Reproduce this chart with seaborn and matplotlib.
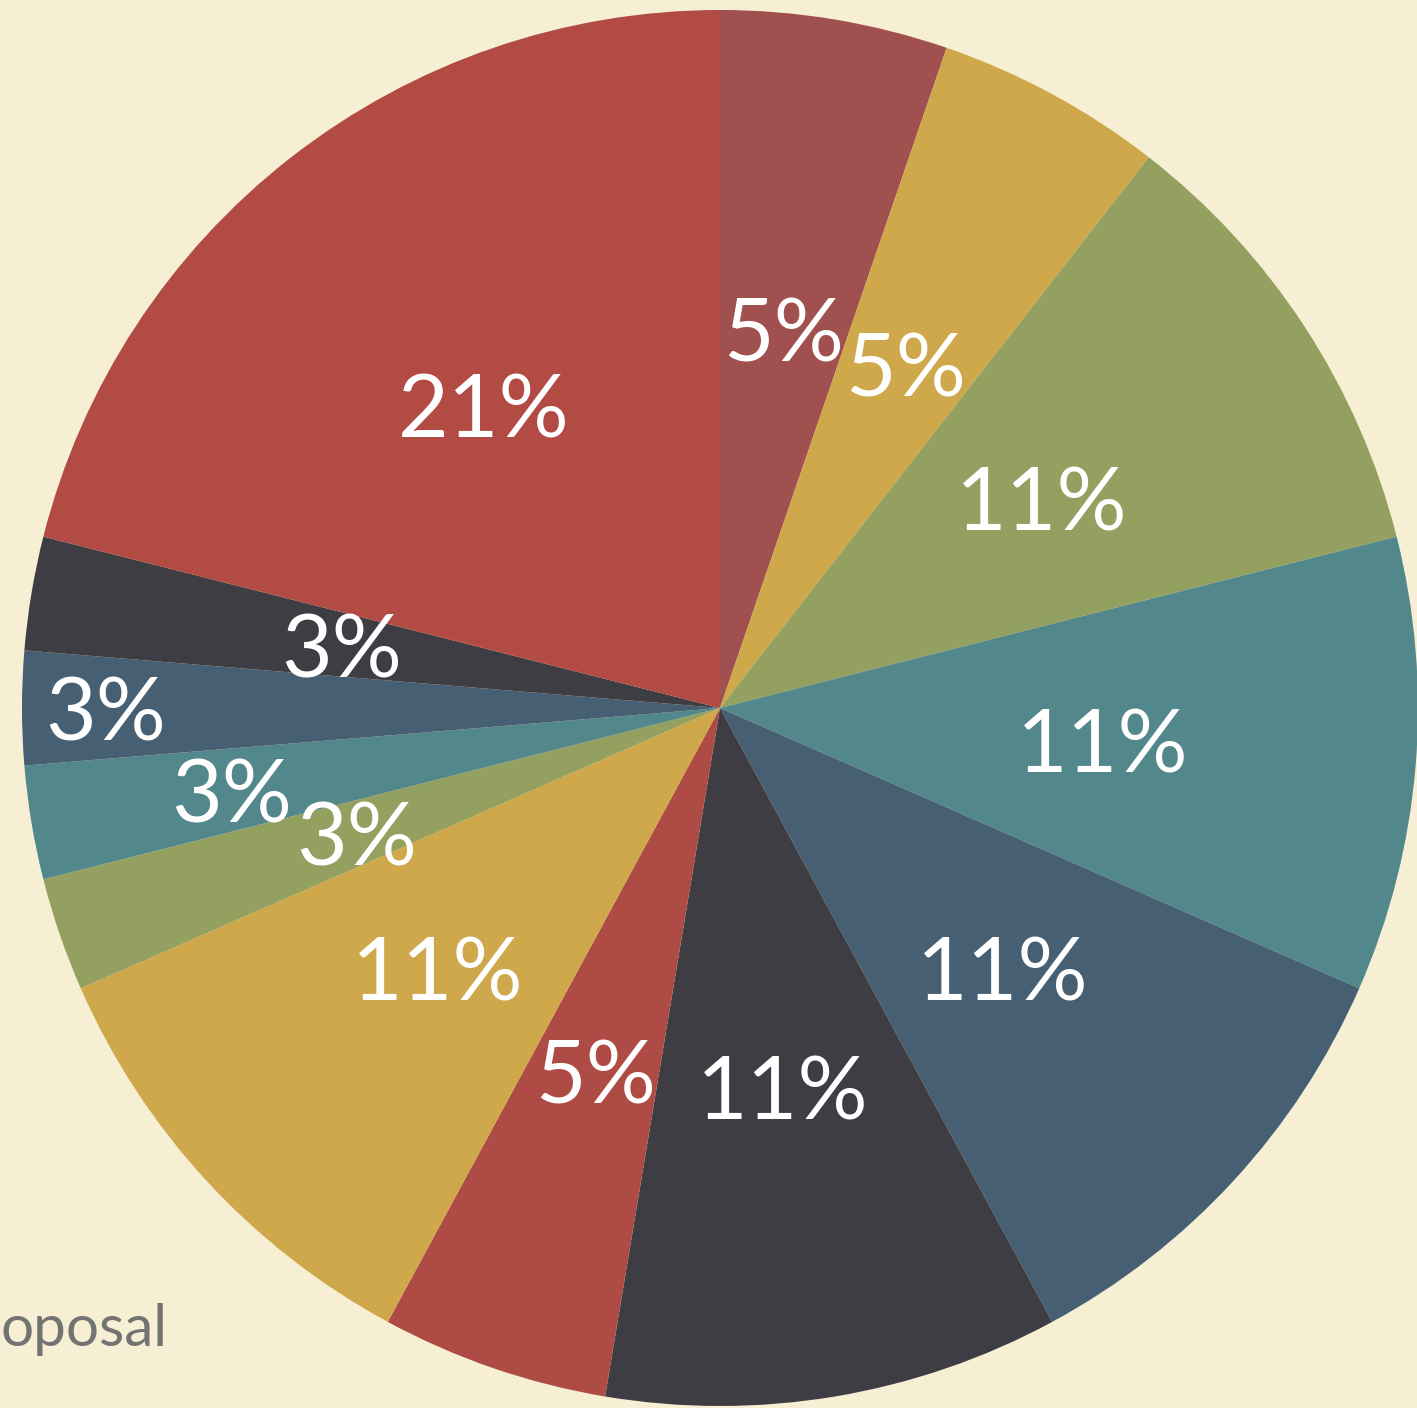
import matplotlib
matplotlib.use("Agg")
import matplotlib.pyplot as plt
import matplotlib.transforms as mtransforms
import seaborn as sns
import numpy as np

# ---- data ----
categories = ["A", "B", "C", "D", "E", "F", "G", "H", "I", "J", "K", "L", "M"]
values = [2, 2, 4, 4, 4, 4, 2, 4, 1, 1, 1, 1, 8]
colors = ["#a0504e", "#cfa84c", "#94a060", "#52878c", "#465f72", "#3f3d44",
          "#ae4b45", "#cfa84c", "#94a060", "#52878c", "#465f72", "#3f3d44",
          "#b34b45"]
label_radius = [0.55, 0.56, 0.55, 0.55, 0.55, 0.55, 0.55, 0.55, 0.55, 0.71, 0.88, 0.55, 0.55]
footer_text = "oposal"

sns.set_theme(style="white")
plt.rcParams["font.family"] = ["Lato", "DejaVu Sans"]

W, H = 1417, 1408
dpi = 100
fig = plt.figure(figsize=(W / dpi, H / dpi), dpi=dpi)
bg = "#f7efd3"
fig.patch.set_facecolor(bg)

R = 698
cx, cy = 720, 708
ax = fig.add_axes([(cx - R) / W, (H - cy - R) / H, 2 * R / W, 2 * R / H])
ax.set_facecolor("none")

wedges, texts = ax.pie(values, colors=colors, startangle=90, counterclock=False,
                       wedgeprops=dict(linewidth=0))
total = sum(values)
shift = mtransforms.offset_copy(ax.transData, fig=fig, x=0, y=-8, units="dots")
for w, v, r in zip(wedges, values, label_radius):
    ang = np.deg2rad((w.theta1 + w.theta2) / 2)
    pct = 100 * v / total
    ax.text(r * np.cos(ang), r * np.sin(ang), f"{pct:.0f}%", ha="center", va="center",
            color="white", fontsize=63, transform=shift)

ax.set_xlim(-1, 1)
ax.set_ylim(-1, 1)
ax.set_aspect("equal")
ax.axis("off")

fig.text(0.5 / W, 1 - 1330 / H, footer_text, ha="left", va="center",
         color="#737373", fontsize=42)

fig.savefig("out.png", dpi=dpi, facecolor=bg)
